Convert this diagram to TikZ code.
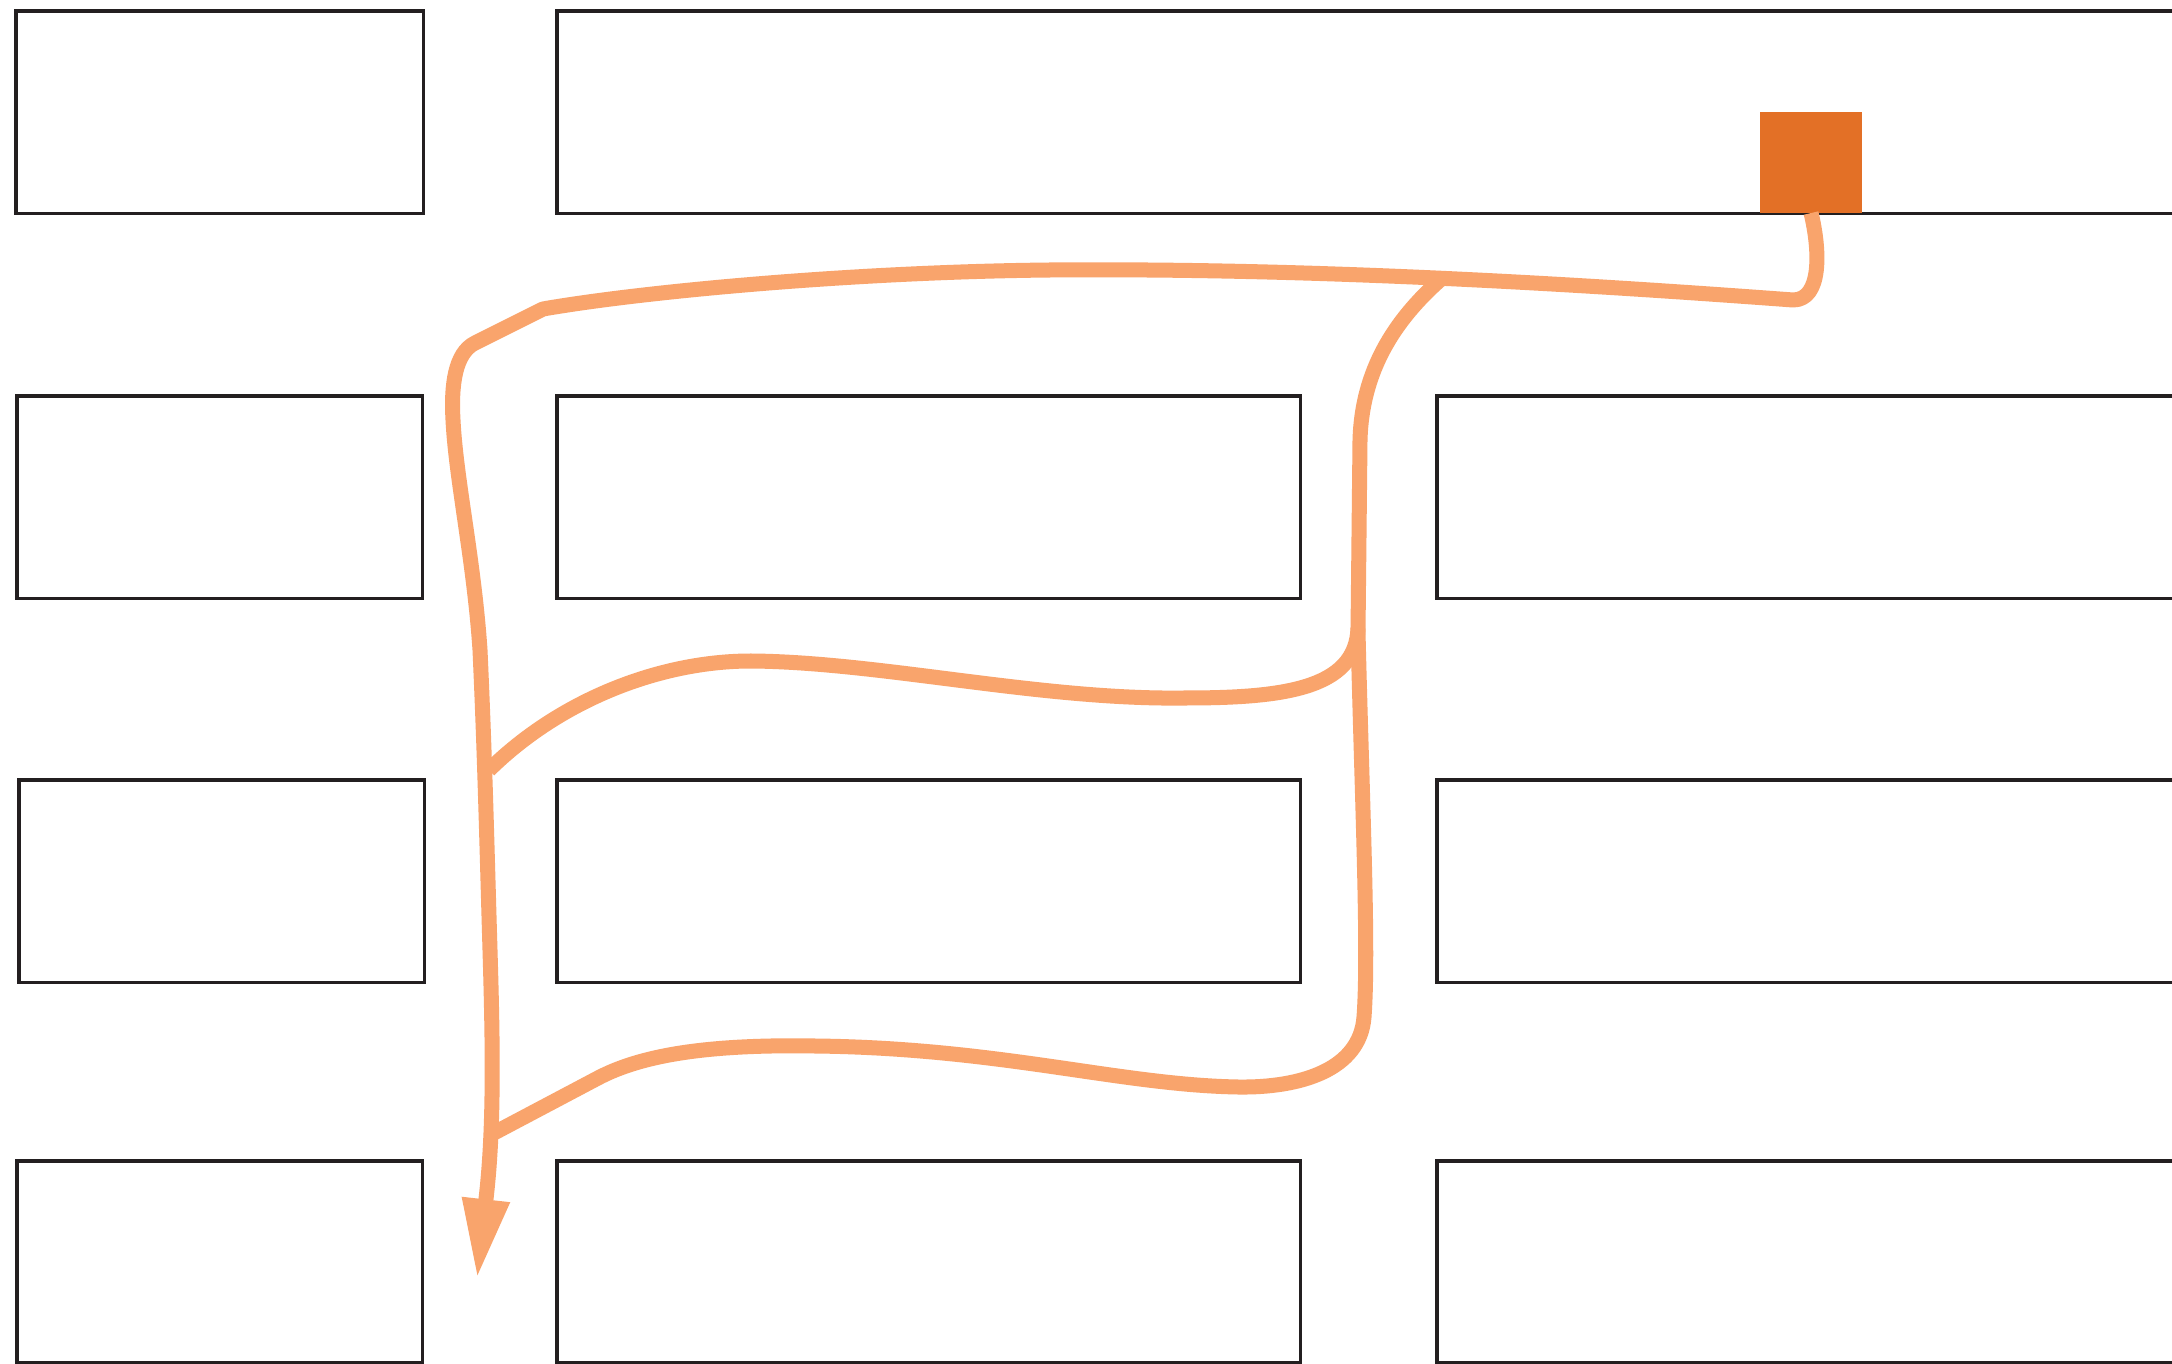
\documentclass[tikz,border=0pt]{standalone}
\usetikzlibrary{arrows.meta}
\definecolor{flow}{RGB}{249,164,108}
\definecolor{accent}{RGB}{227,112,38}
\definecolor{frame}{RGB}{35,31,32}
\begin{document}
\begin{tikzpicture}[x=0.01cm,y=-0.01cm,
  panel/.style={draw=frame, line width=0.9pt, fill=none, inner sep=0pt, outer sep=0pt, anchor=north west, minimum height=2.02cm},
  flowline/.style={draw=flow, line width=0.15cm, line join=round},
  marker/.style={fill=accent, draw=none, inner sep=0pt, outer sep=0pt, anchor=north west, minimum width=1.02cm, minimum height=1.01cm}
]
\useasboundingbox (0,0) rectangle (2172,1364);
\clip (0,0) rectangle (2172,1364);
\fill[white] (0,0) rectangle (2172,1364);

% row 1
\node[panel, minimum width=4.07cm] (b11) at (16,11) {};
\node[panel, minimum width=17.0cm] (b12) at (557,11) {};
% row 2
\node[panel, minimum width=4.05cm] (b21) at (17,396) {};
\node[panel, minimum width=7.43cm] (b22) at (557,396) {};
\node[panel, minimum width=8.0cm] (b23) at (1437,396) {};
% row 3
\node[panel, minimum width=4.05cm] (b31) at (19,780) {};
\node[panel, minimum width=7.43cm] (b32) at (557,780) {};
\node[panel, minimum width=8.0cm] (b33) at (1437,780) {};
% row 4
\node[panel, minimum width=4.05cm, minimum height=2.01cm] (b41) at (17,1161) {};
\node[panel, minimum width=7.43cm, minimum height=2.01cm] (b42) at (557,1161) {};
\node[panel, minimum width=8.0cm, minimum height=2.01cm] (b43) at (1437,1161) {};

% accent square
\node[marker] (sq) at (1760,112) {};

% waypoints
\coordinate (a1) at (1793,300);
\coordinate (a1b) at (1050,270);
\coordinate (a2) at (543,309);
\coordinate (a3) at (475,343);
\coordinate (a4) at (453,420);
\coordinate (a5) at (480,650);
\coordinate (a6) at (490,950);
\coordinate (a7) at (486,1199);
\coordinate (tip) at (477,1279);

\coordinate (j) at (1440,280);
\coordinate (v1) at (1360,440);
\coordinate (v2) at (1358,632);
\coordinate (v3) at (1364,1017);
\coordinate (c1) at (1238,1087);
\coordinate (c2) at (815,1046);
\coordinate (c3) at (598,1078);
\coordinate (m2) at (494,1133);

\coordinate (u0) at (1358,628);
\coordinate (u1) at (1184,698);
\coordinate (u2) at (751,661);
\coordinate (m1) at (489,770);

% main flow line from square down to the arrow
\draw[flowline, -{Triangle[length=0.8cm, width=0.44cm]}]
  (sq.south) .. controls (1820,250) and (1822,300) .. (a1)
  .. controls (1550,282) and (1300,268) .. (a1b)
  .. controls (850,272) and (640,292) .. (a2)
  -- (a3)
  .. controls (455,353) and (451,385) .. (a4)
  .. controls (456,480) and (474,560) .. (a5)
  .. controls (485,760) and (487,850) .. (a6)
  .. controls (493,1050) and (494,1130) .. (a7)
  -- (tip);

% branch down the right side and back along the bottom
\draw[flowline]
  (j) .. controls (1395,320) and (1362,370) .. (v1)
  -- (v2)
  .. controls (1362,800) and (1369,950) .. (v3)
  .. controls (1360,1070) and (1300,1088) .. (c1)
  .. controls (1120,1085) and (1000,1048) .. (c2)
  .. controls (700,1044) and (638,1057) .. (c3)
  -- (m2);

% middle branch
\draw[flowline]
  (u0) .. controls (1356,690) and (1280,698) .. (u1)
  .. controls (1040,700) and (880,662) .. (u2)
  .. controls (660,661) and (560,700) .. (m1);
\end{tikzpicture}
\end{document}
